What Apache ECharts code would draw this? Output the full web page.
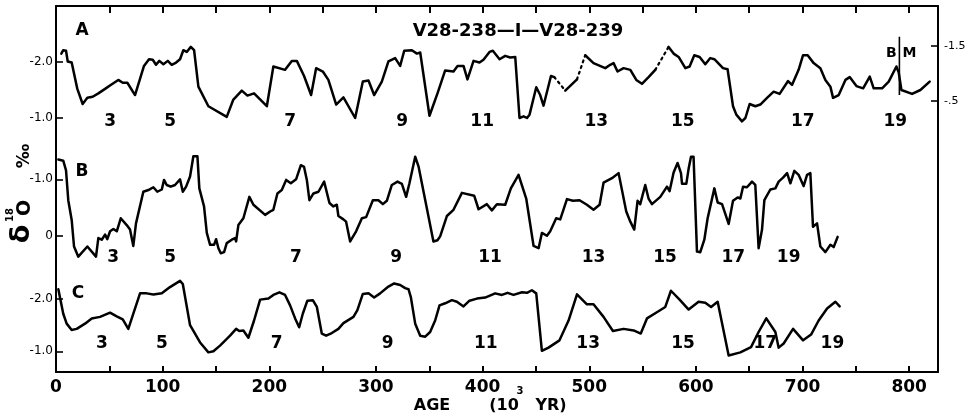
<!DOCTYPE html>
<html>
<head>
<meta charset="utf-8">
<script src="https://cdn.jsdelivr.net/npm/echarts@6/dist/echarts.min.js"></script>
<style>
  html, body { margin: 0; padding: 0; background: #fff; }
  #chart { width: 974px; height: 417px; }
</style>
</head>
<body>
<div id="chart"></div>
<script>
// ---- Age axis (10^3 yr) ----
const ageMin = 0;
const ageMax = 827;
const ageTicks = [0, 50, 100, 150, 200, 250, 300, 350, 400, 450, 500, 550, 600, 650, 700, 750, 800];
const ageTickLabels = [0, 100, 200, 300, 400, 500, 600, 700, 800];

// ---- Core A: V28-238 / V28-239 ----
const ageA = [5,6.8,9.4,11,14.7,20,25,29.4,34.4,39.7,
  46,51.3,58.4,62.6,66.9,74.1,82.5,87.2,90.7,93.8,
  96.9,100.7,104.8,108.5,112.6,116.3,119.4,122.6,126.4,129.5,
  133.5,142.9,160.1,166.3,174.2,179.5,185.7,197.7,203.8,214.8,
  221.1,225.8,232.6,239.2,243.9,250.2,255.4,262.7,269.5,280.5,
  287.7,293,298.3,305.5,311.7,318,322.7,326.5,333.7,338.4,
  341.5,350.2,357.7,364.9,372.7,376.5,382.1,385.8,391.5,397.1,
  400.8,406.5,409.6,415.9,421.2,425.9,430.6,434.6,438.4,441.6,
  444,450.3,454,457.1,464.1,467.2,477.5,488.5,496.2,504,
  515,519.7,522.8,526.5,532.2,538.5,544.1,549.4,555.6,561.9,
  574.4,579.1,583.8,590.1,594.1,598.5,603.5,608.8,613.5,617.3,
  625.4,629.7,634.8,637.9,643.2,646.4,650.4,655.7,660.4,666.7,
  672.9,678.5,686.4,690.1,696.3,700.4,704.8,710.4,716.7,721.4,
  726.1,728.6,733.9,740.2,744.2,750.5,756.8,763,766.7,774.6,
  780.8,788,790.2,792.7,802.7,810.5,819.2];
const d18oA = [-2.15,-2.21,-2.20,-2.01,-1.99,-1.52,-1.25,-1.36,-1.38,-1.44,
  -1.52,-1.59,-1.68,-1.63,-1.63,-1.41,-1.93,-2.05,-2.04,-1.95,
  -2.02,-1.96,-2.02,-1.95,-1.99,-2.05,-2.21,-2.18,-2.27,-2.21,
  -1.56,-1.21,-1.02,-1.33,-1.49,-1.40,-1.44,-1.21,-1.92,-1.86,
  -2.02,-2.02,-1.75,-1.41,-1.89,-1.83,-1.68,-1.24,-1.37,-1.00,
  -1.65,-1.67,-1.41,-1.65,-2.01,-2.07,-1.93,-2.20,-2.21,-2.15,
  -2.17,-1.04,-1.44,-1.85,-1.83,-1.93,-1.93,-1.69,-2.02,-1.99,
  -2.04,-2.18,-2.20,-2.05,-2.11,-2.08,-2.09,-1.00,-1.03,-1.00,
  -1.06,-1.55,-1.41,-1.22,-1.75,-1.73,-1.49,-1.69,-2.12,-1.98,
  -1.89,-1.95,-1.98,-1.83,-1.89,-1.86,-1.68,-1.61,-1.73,-1.86,
  -2.27,-2.15,-2.09,-1.89,-1.92,-2.12,-2.09,-1.96,-2.07,-2.05,
  -1.89,-1.87,-1.21,-1.06,-0.94,-1.00,-1.25,-1.21,-1.24,-1.36,
  -1.47,-1.43,-1.66,-1.59,-1.86,-2.12,-2.12,-1.98,-1.89,-1.68,
  -1.56,-1.36,-1.41,-1.68,-1.73,-1.57,-1.53,-1.74,-1.53,-1.53,
  -1.65,-1.92,-1.81,-1.50,-1.43,-1.50,-1.65];
// indices whose segment to the next sample is an inferred (dotted) link
const dottedFromA = [85, 87, 99];

// ---- Core B ----
const ageB = [2.2,6.8,9.4,11.5,14.7,16.9,20.9,29.4,37.5,39.7,
  42.9,46,48.1,50.7,53.8,57,60.7,66.3,69.4,72.5,
  75,81.9,86.6,91.3,95,99.2,101.3,103.8,107.6,111.6,
  116.3,118.9,122,125.7,128.8,132.6,134.4,138.8,141.4,144.5,
  148.2,150.1,152.3,154.5,157.6,160.1,164.8,167.9,168.9,171,
  175.7,181.3,185.1,196.1,200.8,203.8,207.6,211.7,215.8,220.2,
  225.1,229.6,232.6,235.2,237.6,241.4,246.1,251.4,256.4,260.1,
  263.3,264.8,269.5,272,275.8,281.4,286.8,290.8,297.1,302.3,
  306.5,310.2,314.9,320.2,324.3,328.3,331.4,336.8,339.9,353.9,
  357.7,360.2,366.5,372.7,380.6,392.1,396.2,404,408.7,413.4,
  421.2,426.5,433.7,440.9,447.8,452.5,455.6,460.3,463.4,469,
  472.8,479.1,484.7,490.9,497.8,504,509.7,513.4,521.3,527.5,
  534.7,538.5,542.2,545.3,547.8,552.5,555.6,558.8,566.6,572.9,
  575.3,579.1,582.8,586,587,591,593.2,595.4,597.8,601,
  604.1,607.9,611,617.3,620.4,624.5,630.7,634.8,639.1,641.7,
  644.2,647.9,652.6,655.7,658.8,662,664.2,669.8,674.5,677.6,
  681.7,685.5,688.6,692.3,696.3,701,704.2,707.3,708.9,709.8,
  713.6,716.7,721.4,726.1,729.2,732.9];
const d18oB = [-1.35,-1.33,-1.16,-0.63,-0.28,0.19,0.37,0.19,0.37,0.04,
  0.07,-0.02,0.06,-0.08,-0.12,-0.08,-0.31,-0.19,-0.11,0.18,
  -0.22,-0.78,-0.81,-0.86,-0.78,-0.82,-0.99,-0.90,-0.87,-0.90,
  -1.00,-0.78,-0.87,-1.05,-1.41,-1.41,-0.84,-0.52,-0.05,0.16,
  0.16,0.06,0.22,0.31,0.29,0.13,0.07,0.04,0.10,-0.19,
  -0.31,-0.69,-0.55,-0.37,-0.43,-0.46,-0.75,-0.81,-0.99,-0.93,
  -1.00,-1.25,-1.22,-0.99,-0.63,-0.75,-0.78,-0.96,-0.58,-0.52,
  -0.55,-0.35,-0.29,-0.25,0.10,-0.08,-0.31,-0.33,-0.63,-0.63,
  -0.56,-0.62,-0.90,-0.96,-0.92,-0.69,-0.93,-1.40,-1.23,0.10,
  0.08,0.01,-0.35,-0.46,-0.76,-0.71,-0.47,-0.56,-0.45,-0.56,
  -0.55,-0.84,-1.08,-0.66,0.18,0.22,-0.05,0.00,-0.08,-0.31,
  -0.29,-0.65,-0.62,-0.63,-0.55,-0.46,-0.55,-0.94,-1.02,-1.11,
  -0.43,-0.25,-0.11,-0.62,-0.56,-0.90,-0.66,-0.56,-0.69,-0.87,
  -0.79,-1.12,-1.29,-1.11,-0.92,-0.92,-1.19,-1.40,-1.40,0.28,
  0.29,0.07,-0.31,-0.84,-0.59,-0.56,-0.21,-0.62,-0.68,-0.66,
  -0.87,-0.86,-0.96,-0.90,0.22,-0.11,-0.63,-0.82,-0.84,-0.96,
  -1.03,-1.11,-0.93,-1.15,-1.08,-0.88,-1.08,-1.11,-1.13,-0.16,
  -0.22,0.19,0.29,0.16,0.20,0.02];

// ---- Core C ----
const ageC = [2.2,6.8,10,14.7,19.4,27.2,33.5,41.3,50.7,56.9,
  62.6,67.8,72.5,78.8,85.1,91.3,99.2,106.9,116.3,118.9,
  125.7,135.1,142.9,147.6,153.8,163.2,168.9,171.9,175.7,180.4,
  185.7,191.4,199.2,203.8,209.5,214.8,219.5,224.2,228,231.4,
  235.7,240.8,244.6,249.2,253.3,258.6,264.8,269.5,278.9,282.6,
  287.7,293,298.3,303.9,311.7,317.1,322.7,327.4,330.5,332.7,
  336.8,341.5,346.2,350.8,355.5,359.6,364.9,371.2,375.9,382.1,
  387.7,394.7,402.4,411.8,418.1,423.4,429,436.9,441.6,446.2,
  450.3,455.6,461.8,472.1,480.6,488.5,497.8,504,513.4,522.2,
  532.2,541.6,548.3,554.1,561.9,571.3,576.6,584.7,593.2,602.5,
  608.8,614.2,620.4,630.7,641.7,651.7,658.8,666,674.5,677.6,
  682.3,691.1,700.5,708,715.1,723,730.8,734.8];
const d18oC = [-2.19,-1.72,-1.53,-1.41,-1.43,-1.53,-1.63,-1.66,-1.74,-1.67,
  -1.61,-1.43,-1.72,-2.11,-2.11,-2.09,-2.11,-2.23,-2.35,-2.29,
  -1.50,-1.17,-0.98,-1.00,-1.11,-1.30,-1.43,-1.39,-1.40,-1.26,
  -1.59,-1.99,-2.01,-2.08,-2.13,-2.08,-1.88,-1.63,-1.46,-1.72,
  -1.97,-1.98,-1.85,-1.34,-1.30,-1.35,-1.43,-1.54,-1.66,-1.79,
  -2.10,-2.11,-2.03,-2.11,-2.24,-2.30,-2.27,-2.21,-2.19,-2.04,
  -1.53,-1.30,-1.28,-1.37,-1.59,-1.88,-1.92,-1.98,-1.95,-1.86,
  -1.97,-2.01,-2.03,-2.11,-2.08,-2.12,-2.08,-2.13,-2.12,-2.17,
  -2.11,-1.01,-1.07,-1.21,-1.59,-2.09,-1.90,-1.90,-1.66,-1.39,
  -1.43,-1.40,-1.34,-1.63,-1.73,-1.85,-2.16,-1.99,-1.80,-1.95,
  -1.93,-1.85,-1.95,-0.92,-0.98,-1.08,-1.37,-1.63,-1.37,-1.07,
  -1.15,-1.43,-1.21,-1.32,-1.59,-1.82,-1.95,-1.86];

// ---- Isotope stage numbers ----
const stageNums = ['3', '5', '7', '9', '11', '13', '15', '17', '19'];
const stageAgeA = [50.7, 107, 219.5, 324.6, 399.6, 506.6, 587.7, 700.3, 787];
const stageAgeB = [53.5, 107, 225, 319, 407, 504, 571, 635, 687];
const stageAgeC = [43, 99.4, 207, 311, 403, 499, 588, 665, 728];
const stageLevelA = -0.93;
const stageLevelB = 0.39;
const stageLevelC = -1.15;

// ---- Brunhes / Matuyama boundary in core A ----
const bmAge = 790.8;
const bmSpan = [-2.45, -1.41];
const bmLetters = [['B', 783.3], ['M', 800.2]];
const bmLetterLevel = -2.16;

// ---- Y tick values and labels ----
const ticksA = [-2, -1];
const labelsA = ['-2.0', '-1.0'];
const ticksArightVals = [-1.5, -0.5];
const labelsAright = ['-1.5', '-.5'];
const ticksB = [-1, 0];
const labelsB = ['-1.0', '0'];
const ticksC = [-2, -1];
const labelsC = ['-2.0', '-1.0'];

const BOLD = 'DejaVu Sans';
const INK = '#000';

function pairs(xs, ys) { return xs.map((x, i) => [x, ys[i]]); }

function solidWithBreaks(xs, ys, dotted) {
  const out = [];
  xs.forEach((x, i) => {
    out.push([x, ys[i]]);
    if (dotted.indexOf(i) >= 0) out.push([(x + xs[i + 1]) / 2, '-']);
  });
  return out;
}
function dottedLinks(xs, ys, dotted) {
  const out = [];
  dotted.forEach(i => {
    out.push([xs[i], ys[i]], [xs[i + 1], ys[i + 1]], [(xs[i] + xs[i + 1]) / 2 + 0.01, '-']);
  });
  return out;
}
function stagePoints(xs, level) { return xs.map((x, i) => [x, level, stageNums[i]]); }
function pick(vals, labels) { return v => { const k = vals.indexOf(v); return k >= 0 ? labels[k] : ''; }; }

const chart = echarts.init(document.getElementById('chart'), null, { renderer: 'canvas' });

const gridL = 56, gridR = 36;
const hiddenX = idx => ({ gridIndex: idx, type: 'value', min: ageMin, max: ageMax, show: false });
const panelY = (idx, min, max, vals, labels, pos) => ({
  gridIndex: idx, type: 'value', inverse: true, min: min, max: max, position: pos || 'left',
  axisLine: { show: false, onZero: false },
  axisTick: { show: true, inside: true, length: 7, lineStyle: { color: INK, width: 1.6 }, customValues: vals },
  axisLabel: { show: true, customValues: vals, formatter: pick(vals, labels), color: INK,
    fontFamily: 'DejaVu Sans', fontSize: pos === 'right' ? 11 : 12, margin: pos === 'right' ? 6 : 3 },
  splitLine: { show: false }
});

const curve = { type: 'line', symbol: 'none', silent: true, connectNulls: false,
  lineStyle: { color: INK, width: 2.5, join: 'round', cap: 'round' } };
const textLabelSeries = (xi, yi, data, size) => ({
  type: 'scatter', xAxisIndex: xi, yAxisIndex: yi, symbolSize: 0, silent: true,
  itemStyle: { color: INK, opacity: 1 }, data: data, z: 5,
  label: { show: true, position: 'inside', formatter: p => String(p.data[2]),
    color: INK, opacity: 1, textBorderWidth: 0, fontFamily: BOLD, fontWeight: 'bold', fontSize: size }
});

const txt = (x, y, text, size, extra) => Object.assign({
  type: 'text', x: x, y: y, silent: true,
  style: { text: text, font: 'bold ' + size + 'px "DejaVu Sans"', fill: INK,
    align: 'center', verticalAlign: 'middle', textAlign: 'center', textVerticalAlign: 'middle' }
}, extra || {});

const option = {
  animation: false,
  backgroundColor: '#fff',
  grid: [
    { left: gridL, right: gridR, top: 6, bottom: 45 },          // frame
    { left: gridL, right: gridR, top: 6, height: 140 },         // A
    { left: gridL, right: gridR, top: 137, height: 127 },       // B
    { left: gridL, right: gridR, top: 273, height: 99.2 }       // C
  ],
  xAxis: [
    { gridIndex: 0, type: 'value', min: ageMin, max: ageMax, position: 'bottom',
      axisLine: { show: true, onZero: false, lineStyle: { color: INK, width: 2 } },
      axisTick: { show: true, inside: true, length: 6, lineStyle: { color: INK, width: 2 }, customValues: ageTicks },
      axisLabel: { show: true, customValues: ageTickLabels, color: INK, fontFamily: BOLD, fontWeight: 'bold', fontSize: 17, margin: 7 },
      splitLine: { show: false } },
    { gridIndex: 0, type: 'value', min: ageMin, max: ageMax, position: 'top',
      axisLine: { show: true, onZero: false, lineStyle: { color: INK, width: 2 } },
      axisTick: { show: true, inside: true, length: 7, lineStyle: { color: INK, width: 2 }, customValues: ageTicks },
      axisLabel: { show: false }, splitLine: { show: false } },
    hiddenX(1), hiddenX(2), hiddenX(3)
  ],
  yAxis: [
    { gridIndex: 0, type: 'value', min: 0, max: 1, position: 'left',
      axisLine: { show: true, onZero: false, lineStyle: { color: INK, width: 2 } },
      axisTick: { show: false }, axisLabel: { show: false }, splitLine: { show: false } },
    { gridIndex: 0, type: 'value', min: 0, max: 1, position: 'right',
      axisLine: { show: true, onZero: false, lineStyle: { color: INK, width: 2 } },
      axisTick: { show: false }, axisLabel: { show: false }, splitLine: { show: false } },
    panelY(1, -3.0, -0.5, ticksA, labelsA),
    panelY(1, -2.218, 0.314, ticksArightVals, labelsAright, 'right'),
    panelY(2, -1.75, 0.5, ticksB, labelsB),
    panelY(3, -2.5, -0.6, ticksC, labelsC)
  ],
  series: [
    Object.assign({}, curve, { xAxisIndex: 2, yAxisIndex: 2, data: solidWithBreaks(ageA, d18oA, dottedFromA) }),
    Object.assign({}, curve, { xAxisIndex: 2, yAxisIndex: 2, data: dottedLinks(ageA, d18oA, dottedFromA),
      lineStyle: { color: INK, width: 2.2, type: [2, 4], cap: 'round' } }),
    Object.assign({}, curve, { xAxisIndex: 3, yAxisIndex: 4, data: pairs(ageB, d18oB) }),
    Object.assign({}, curve, { xAxisIndex: 4, yAxisIndex: 5, data: pairs(ageC, d18oC) }),
    Object.assign({}, curve, { xAxisIndex: 2, yAxisIndex: 2, data: [[bmAge, bmSpan[0]], [bmAge, bmSpan[1]]],
      lineStyle: { color: INK, width: 1.6 } }),
    textLabelSeries(2, 2, stagePoints(stageAgeA, stageLevelA), 17),
    textLabelSeries(3, 4, stagePoints(stageAgeB, stageLevelB), 17),
    textLabelSeries(4, 5, stagePoints(stageAgeC, stageLevelC), 17),
    textLabelSeries(2, 2, bmLetters.map(b => [b[1], bmLetterLevel, b[0]]), 14)
  ],
  graphic: [
    txt(518, 31, 'V28-238—I—V28-239', 18),
    txt(82, 31, 'A', 17),
    txt(82, 172, 'B', 17),
    txt(78, 294, 'C', 17),
    // y-axis title, read bottom to top
    txt(22, 234, 'δ', 27, { rotation: Math.PI / 2 }),
    txt(10, 215, '18', 10, { rotation: Math.PI / 2 }),
    txt(25, 208, 'O', 19, { rotation: Math.PI / 2 }),
    txt(25, 156, '‰', 17, { rotation: Math.PI / 2 }),
    // x-axis title
    txt(432, 406, 'AGE', 16),
    txt(504, 406, '(10', 16),
    txt(520, 391, '3', 10),
    txt(551, 406, 'YR)', 16)
  ]
};

chart.setOption(option);
</script>
</body>
</html>
